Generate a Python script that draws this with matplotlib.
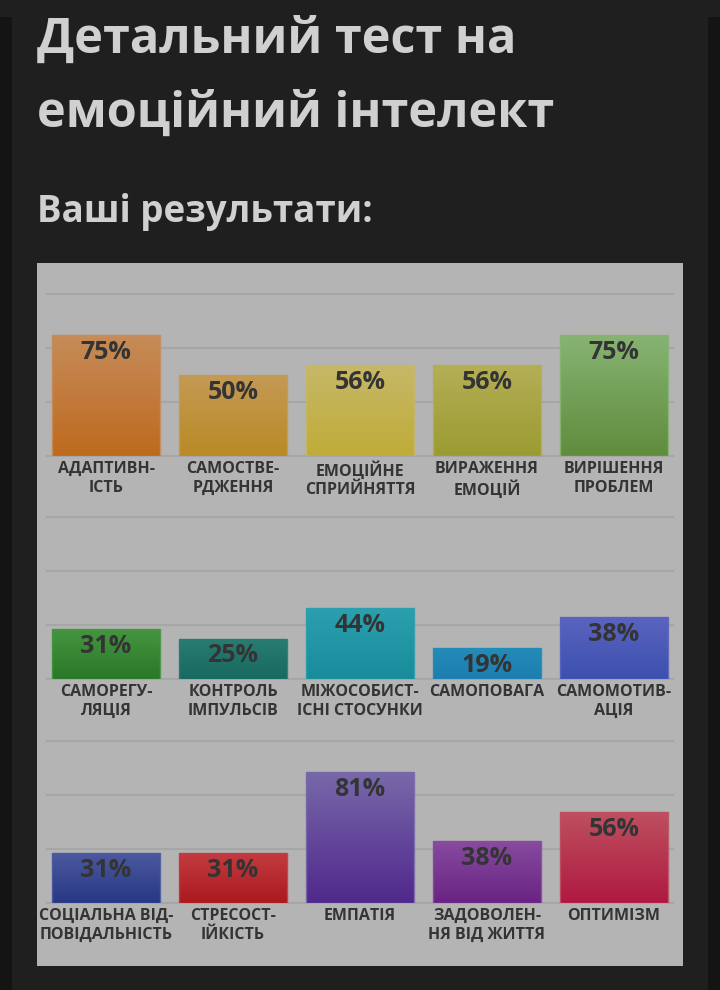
import matplotlib
matplotlib.use("Agg")
import matplotlib.pyplot as plt
import numpy as np
from matplotlib.colors import LinearSegmentedColormap
from matplotlib.patches import Rectangle

plt.rcParams["font.family"] = ["Open Sans", "DejaVu Sans"]

title_lines = ["Детальний тест на", "емоційний інтелект"]
subtitle = "Ваші результати:"

cats1 = ["АДАПТИВН-\nІСТЬ", "САМОСТВЕ-\nРДЖЕННЯ", "ЕМОЦІЙНЕ\nСПРИЙНЯТТЯ",
         "ВИРАЖЕННЯ\nЕМОЦІЙ", "ВИРІШЕННЯ\nПРОБЛЕМ"]
vals1 = [75, 50, 56, 56, 75]
top1 = ["#c68c5a", "#c49a55", "#c6b868", "#b4af55", "#87b473"]
bot1 = ["#be6a1e", "#b98a25", "#bfac38", "#9b9b32", "#5f8c3c"]

cats2 = ["САМОРЕГУ-\nЛЯЦІЯ", "КОНТРОЛЬ\nІМПУЛЬСІВ", "МІЖОСОБИСТ-\nІСНІ СТОСУНКИ",
         "САМОПОВАГА", "САМОМОТИВ-\nАЦІЯ"]
vals2 = [31, 25, 44, 19, 38]
top2 = ["#469641", "#287d73", "#2da0af", "#238cb9", "#5a64be"]
bot2 = ["#287828", "#19695f", "#198c9b", "#1e7daf", "#3c50af"]

cats3 = ["СОЦІАЛЬНА ВІД-\nПОВІДАЛЬНІСТЬ", "СТРЕСОСТ-\nІЙКІСТЬ", "ЕМПАТІЯ",
         "ЗАДОВОЛЕН-\nНЯ ВІД ЖИТТЯ", "ОПТИМІЗМ"]
vals3 = [31, 31, 81, 38, 56]
top3 = ["#4b5aa0", "#c33c41", "#7869aa", "#874ba0", "#be505f"]
bot3 = ["#283782", "#aa191e", "#50288c", "#692382", "#af1941"]

grid_vals = [0, 100 / 3, 200 / 3, 100]

W, H = 720, 990
fig = plt.figure(figsize=(W / 100, H / 100), dpi=100)
fig.patch.set_facecolor("#1f1f1f")

# darker side strips of the page
for x0 in (0, 708):
    fig.patches.append(Rectangle((x0 / W, 0), 12 / W, 1 - 17 / H, transform=fig.transFigure,
                                 facecolor="#141414", edgecolor="none", zorder=-2))
# grey panel
fig.patches.append(Rectangle((37 / W, 1 - 966 / H), 646 / W, 703 / H, transform=fig.transFigure,
                             facecolor="#b4b4b4", edgecolor="none", zorder=-1))

fig.text(37 / W, 1 - 53 / H, title_lines[0], color="#d0d0d0", fontsize=35,
         fontweight="bold", va="baseline")
fig.text(37 / W, 1 - 127 / H, title_lines[1], color="#d0d0d0", fontsize=35,
         fontweight="bold", va="baseline")
fig.text(37 / W, 1 - 222 / H, subtitle, color="#d0d0d0", fontsize=26.5,
         fontweight="bold", va="baseline")

text_col = "#343434"
grad = np.linspace(0, 1, 256).reshape(-1, 1)


def draw_row(baseline_px, cats, vals, tops, bots):
    ax = fig.add_axes([47 / W, 1 - baseline_px / H, 626 / W, 162 / H])
    ax.set_facecolor("none")
    for s in ax.spines.values():
        s.set_visible(False)
    x = np.arange(len(vals))
    bars = ax.bar(x, vals, width=0.85, color="none", edgecolor="none", zorder=2)
    for b, v, ct, cb in zip(bars, vals, tops, bots):
        cmap = LinearSegmentedColormap.from_list("g", [cb, ct])
        x0, w = b.get_x(), b.get_width()
        im = ax.imshow(grad, cmap=cmap, origin="lower", aspect="auto",
                       extent=(x0, x0 + w, 0, v), zorder=2)
        im.set_clip_path(b)
        ax.add_patch(Rectangle((x0, 0), w, v, facecolor="none", edgecolor=ct,
                               linewidth=1.0, alpha=0.9, zorder=3))
        ax.annotate(f"{v}%", (b.get_x() + w / 2, v), xytext=(0, -12.6),
                    textcoords="offset points", ha="center", va="center",
                    fontsize=18, fontweight="bold", color=text_col, zorder=4)
    for g in grid_vals:
        ax.axhline(g, color="#a6a6a6", linewidth=1.5, zorder=1, clip_on=False)
    ax.set_xlim(-0.465, 4.465)
    ax.set_ylim(0, 100)
    ax.set_yticks([])
    ax.set_xticks(x)
    ax.set_xticklabels(cats, fontsize=11.5, fontweight="bold", color=text_col,
                       linespacing=1.22)
    ax.tick_params(axis="x", length=0, pad=3.8)
    return ax


draw_row(456, cats1, vals1, top1, bot1)
draw_row(679, cats2, vals2, top2, bot2)
draw_row(903, cats3, vals3, top3, bot3)

fig.savefig("out.png", dpi=100, facecolor=fig.get_facecolor())
